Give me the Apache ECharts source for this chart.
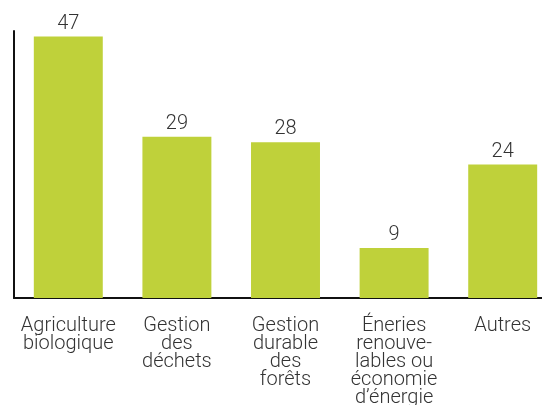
<!DOCTYPE html>
<html><head><meta charset="utf-8">
<script src="https://cdn.jsdelivr.net/npm/echarts@6/dist/echarts.min.js"></script>
<style>html,body{margin:0;padding:0;background:#fff}#c{width:542px;height:405px}</style>
</head><body><div id="c"></div>
<script>
const categories = ['Agriculture\nbiologique', 'Gestion\ndes\ndéchets', 'Gestion\ndurable\ndes\nforêts', 'Éneries\nrenouve-\nlables ou\néconomie\nd’énergie', 'Autres'];
const values = [47, 29, 28, 9, 24];

const chart = echarts.init(document.getElementById('c'));
chart.setOption({
  animation: false,
  grid: {left: 14, top: 31, right: -15, height: 267, containLabel: false, outerBoundsMode: 'none'},
  xAxis: {
    type: 'category', data: categories,
    axisLine: {lineStyle: {color: '#111', width: 2}},
    axisTick: {show: false},
    axisLabel: {color: '#333', fontFamily: 'Roboto', fontWeight: 300, fontSize: 20, lineHeight: 18, margin: 19, interval: 0}
  },
  yAxis: {
    type: 'value', min: 0, max: 48,
    axisLine: {show: true, lineStyle: {color: '#111', width: 2}},
    axisTick: {show: false}, axisLabel: {show: false}, splitLine: {show: false}
  },
  series: [{
    type: 'bar', data: values, barWidth: '63.5%',
    itemStyle: {color: '#bfd13a'},
    label: {show: true, position: 'top', color: '#333', fontFamily: 'Roboto', fontWeight: 300, fontSize: 20, distance: 3}
  }]
});
</script></body></html>
